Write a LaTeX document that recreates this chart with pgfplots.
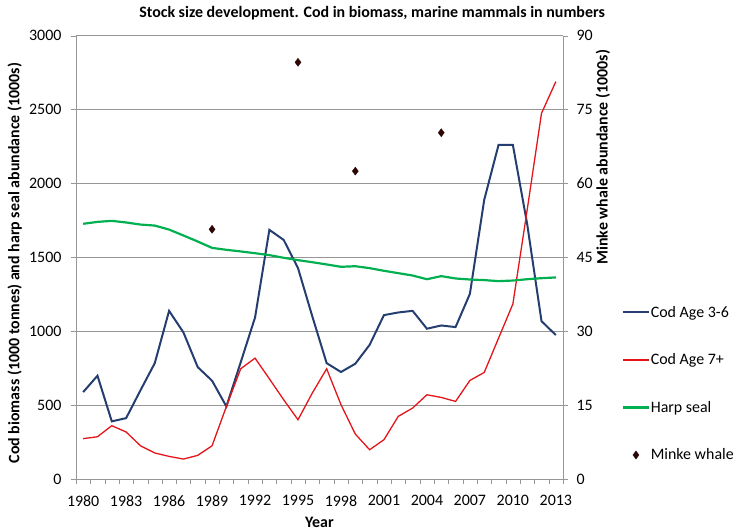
\documentclass[border=0pt]{standalone}
\usepackage{pgfplots}
\pgfplotsset{compat=1.18}
\usepackage{fontspec}
\setmainfont{Carlito}
\definecolor{codblue}{RGB}{36,62,112}
\definecolor{codred}{RGB}{228,20,24}
\definecolor{sealgreen}{RGB}{0,176,80}
\definecolor{minke}{RGB}{45,5,5}
\definecolor{gridgray}{RGB}{150,150,150}
\pgfplotstableread{
year cod36 cod7 seal
1980 588 273 1727
1981 699 286 1740
1982 390 361 1747
1983 412 318 1736
1984 600 225 1722
1985 784 176 1715
1986 1138 153 1688
1987 992 135 1648
1988 757 160 1607
1989 665 225 1564
1990 491 491 1551
1991 790 746 1540
1992 1093 818 1528
1993 1686 678 1515
1994 1618 536 1497
1995 1427 401 1481
1996 1100 582 1467
1997 784 746 1452
1998 724 503 1436
1999 780 304 1440
2000 908 198 1427
2001 1109 266 1409
2002 1127 424 1393
2003 1138 480 1377
2004 1017 570 1352
2005 1039 552 1373
2006 1028 525 1357
2007 1253 667 1350
2008 1889 721 1346
2009 2261 953 1339
2010 2261 1184 1343
2011 1725 1822 1352
2012 1068 2475 1359
2013 974 2689 1364
}\datatable
\pgfplotstableread{
year minke
1989 50.7
1995 84.6
1999 62.5
2005 70.3
}\minketable
\begin{document}
\begin{tikzpicture}
\useasboundingbox (-76bp,-53bp) rectangle (661bp,479bp);
\pgfplotsset{
  every axis/.append style={
    scale only axis, width=487bp, height=443.3bp,
    xmin=1979.5, xmax=2013.5,
    at={(0,0)}, anchor=south west,
    /pgf/number format/assume math mode=true,
    tick label style={font=\fontsize{16}{18}\selectfont},
    axis line style={gridgray},
    major tick style={gridgray},
    minor tick style={gridgray},
  },
}
\begin{axis}[
  axis x line*=bottom, axis y line*=left,
  ymin=0, ymax=3000,
  ytick={0,500,...,3000},
  ymajorgrids, grid style={gridgray, line width=0.8pt},
  xtick={1980,1983,...,2013},
  major x tick style={draw=none},
  minor xtick={1979.5,1980.5,...,2013.5},
  tick align=outside, major tick length=5bp, minor tick length=5bp,
  xticklabel style={/pgf/number format/1000 sep={}, yshift=-8bp},
  yticklabel style={/pgf/number format/1000 sep={}, xshift=-6bp},
  xlabel={\textbf{Year}},
  xlabel style={font=\fontsize{16}{18}\selectfont, at={(axis description cs:0.5,-0.099)}, anchor=center},
  ylabel={\textbf{Cod biomass (1000 tonnes) and harp seal abundance (1000s)}},
  ylabel style={font=\fontsize{16}{18}\selectfont, at={(axis description cs:-0.126,0.487)}, anchor=center},
  title={\textbf{Stock size development. Cod in biomass, marine mammals in numbers}},
  title style={font=\fontsize{16}{18}\selectfont, at={(axis description cs:0.608,1.0)}, anchor=base, yshift=12.5bp},
]
\addplot[codblue, line width=2pt] table[x=year,y=cod36] {\datatable};
\addplot[codred, line width=1.3pt] table[x=year,y=cod7] {\datatable};
\addplot[sealgreen, line width=2.2pt] table[x=year,y=seal] {\datatable};
\end{axis}
\begin{axis}[
  axis x line=none, axis y line*=right,
  ymin=0, ymax=90, ytick={0,15,...,90},
  tick align=outside, major tick length=5bp,
  yticklabel style={xshift=5bp},
  ylabel={\textbf{Minke whale abundance (1000s)}},
  ylabel style={font=\fontsize{16}{18}\selectfont, at={(axis description cs:1.082,0.726)}, anchor=center},
  legend cell align=left,
  legend style={draw=none, fill=none, at={(axis description cs:1.121,0.395)}, anchor=north west,
    font=\fontsize{16}{18}\selectfont, row sep=31bp, inner sep=0pt,
    nodes={inner xsep=1pt, inner ysep=2pt}},
  legend image code/.code={\draw[mark repeat=2,mark phase=2,#1] plot coordinates {(0cm,0cm) (0.45cm,0cm) (0.9cm,0cm)};},
]
\addlegendimage{codblue, line width=2pt}
\addlegendentry{Cod Age 3-6}
\addlegendimage{codred, line width=1.3pt}
\addlegendentry{Cod Age 7+}
\addlegendimage{sealgreen, line width=2.2pt}
\addlegendentry{Harp seal}
\addplot[only marks, mark=diamond*, mark size=4bp, minke, mark options={fill=minke, draw=minke}] table[x=year,y=minke] {\minketable};
\addlegendentry{Minke whale}
\end{axis}
\end{tikzpicture}
\end{document}
